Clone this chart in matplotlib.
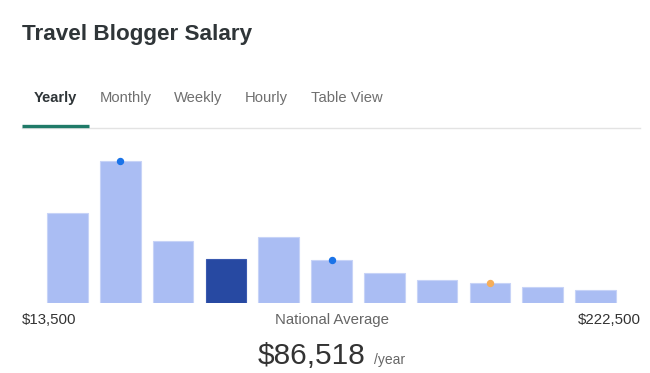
import matplotlib
matplotlib.use("Agg")
import matplotlib.pyplot as plt
from matplotlib.lines import Line2D

plt.rcParams['font.family'] = ['Liberation Sans', 'DejaVu Sans']

# Data (relative bar heights)
bins = list(range(11))
heights = [90, 141, 61.5, 44, 65.5, 42.5, 29.5, 22.5, 19.5, 15.5, 12.5]
highlight = 3
blue_dots = [1, 5]
orange_dots = [8]
tabs = ["Yearly", "Monthly", "Weekly", "Hourly", "Table View"]
min_label = "$13,500"
max_label = "$222,500"
avg_label = "$86,518"

W, H = 650, 373
fig = plt.figure(figsize=(W / 100, H / 100), dpi=100)

def fx(x):
    return x / W

def fy(y):
    return 1 - y / H

# Title
fig.text(fx(22), fy(40), "Travel Blogger Salary", fontsize=16.2, fontweight='bold',
         color='#2f3538', va='baseline', ha='left')

# Tabs
tab_x = [34, 100, 174, 245, 311]
for i, (t, x) in enumerate(zip(tabs, tab_x)):
    fig.text(fx(x), fy(102), t, fontsize=10.6,
             fontweight='bold' if i == 0 else 'normal',
             color='#2f3538' if i == 0 else '#6f6f6f', va='baseline', ha='left')

fig.add_artist(Line2D([fx(22), fx(640)], [fy(127.5), fy(127.5)], color='#e3e3e3', lw=1))
fig.add_artist(Line2D([fx(22), fx(89)], [fy(126), fy(126)], color='#1f7a68', lw=2.4,
                      solid_capstyle='butt'))

# Bars
ax_left, ax_right = 41, 622
ax_bottom, ax_top = 302.5, 152.5
ax = fig.add_axes([fx(ax_left), fy(ax_bottom), (ax_right - ax_left) / W, (ax_bottom - ax_top) / H])
colors = ['#2749a2' if i == highlight else '#aabdf3' for i in bins]
edges = ['#3a5ab0' if i == highlight else '#c7d3f7' for i in bins]
ax.bar(bins, heights, width=0.77, color=colors, edgecolor=edges, linewidth=0.8)
for i in blue_dots:
    ax.plot(i, heights[i], 'o', color='#1a73e8', markersize=4.3, clip_on=False, zorder=5)
for i in orange_dots:
    ax.plot(i, heights[i], 'o', color='#f6ae5a', markersize=4.3, clip_on=False, zorder=5)
ax.set_xlim(-0.5, 10.5)
ax.set_ylim(0, 150)
ax.axis('off')

# Bottom labels
fig.text(fx(22), fy(324), min_label, fontsize=10.8, color='#333333', va='baseline', ha='left')
fig.text(fx(641), fy(324), max_label, fontsize=10.8, color='#333333', va='baseline', ha='right')
fig.text(fx(332), fy(324), "National Average", fontsize=10.8, color='#666666', va='baseline', ha='center')
fig.text(fx(365), fy(364), avg_label, fontsize=21.5, color='#333333', va='baseline', ha='right')
fig.text(fx(374), fy(364), "/year", fontsize=10, color='#666666', va='baseline', ha='left')

fig.savefig("out.png", dpi=100)
